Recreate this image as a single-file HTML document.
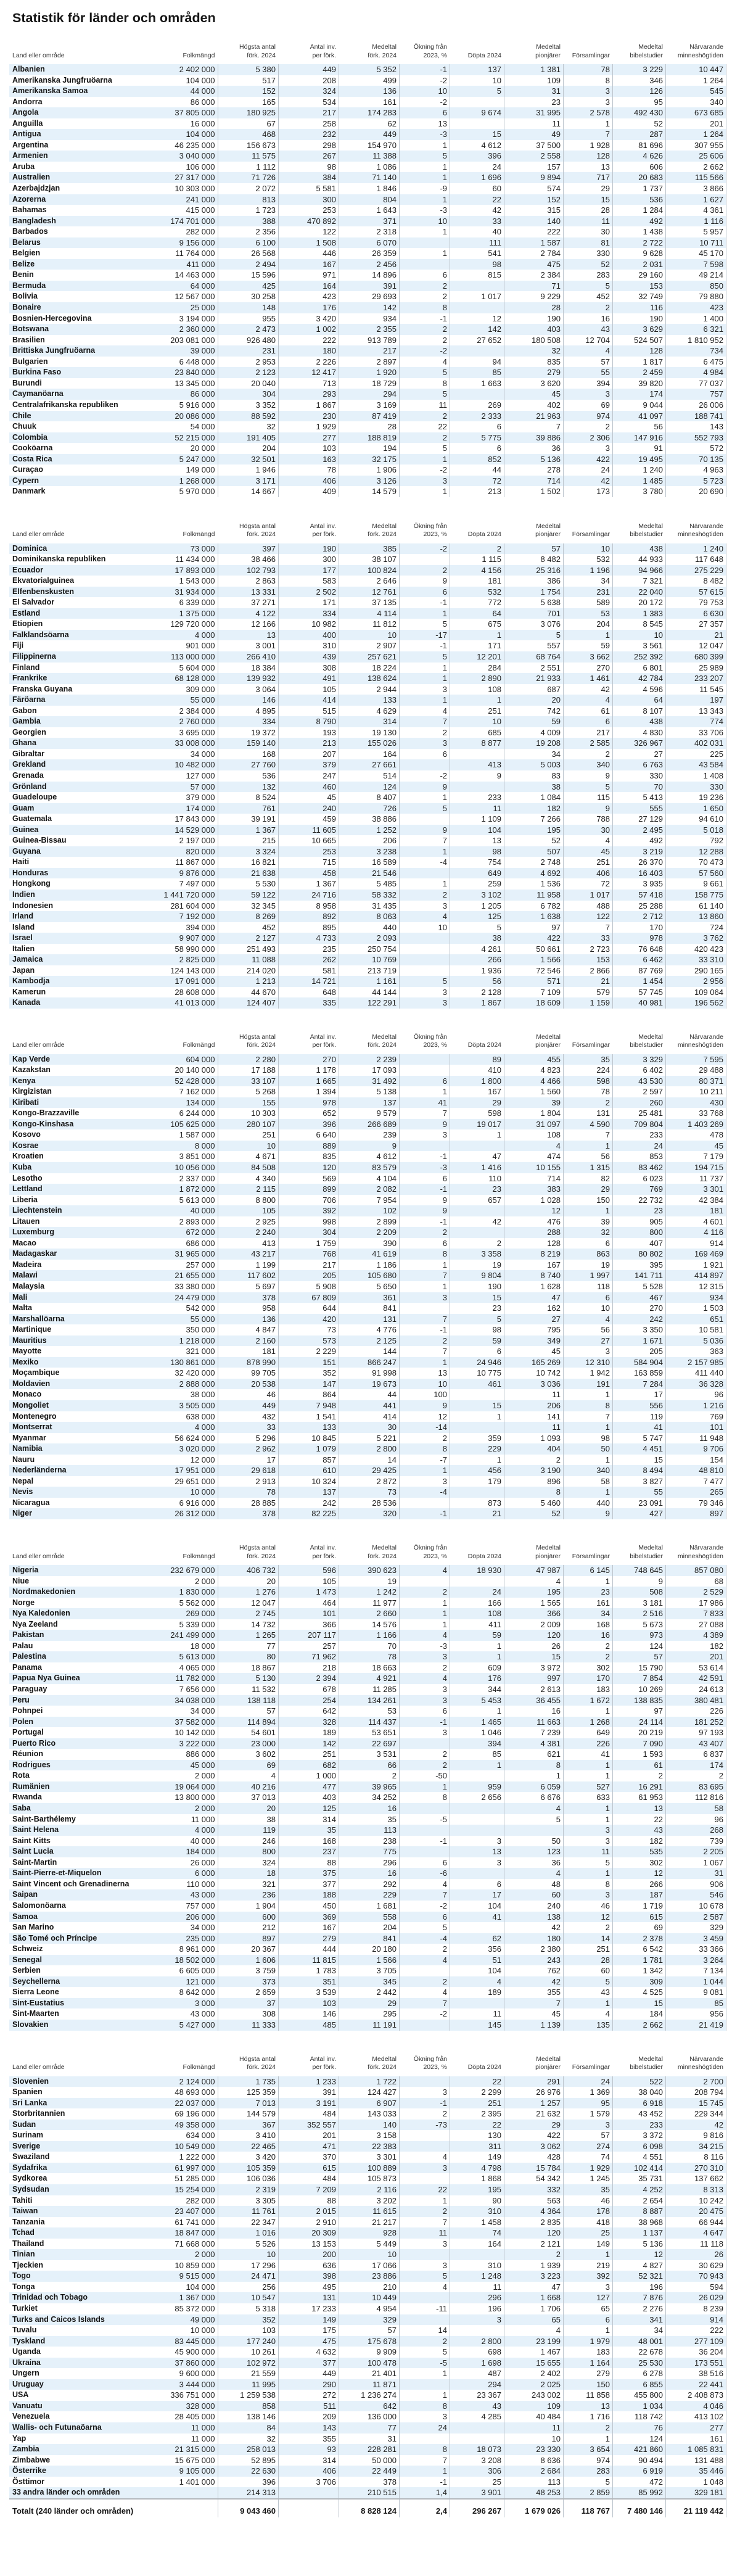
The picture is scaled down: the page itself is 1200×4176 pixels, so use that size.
<!DOCTYPE html>
<html lang="sv">
<head>
<meta charset="utf-8">
<title>Statistik för länder och områden</title>
<style>
*{margin:0;padding:0;box-sizing:border-box}
html,body{width:1200px;height:4176px;background:#fff;overflow:hidden}
body{position:relative;font-family:"Liberation Sans",Arial,sans-serif;color:#1a1a1a}
h1{position:absolute;left:20px;top:16px;font-size:21.5px;line-height:26px;font-weight:bold;color:#151515;white-space:nowrap}
.s{position:absolute;left:15px;width:1163px}
.h,.r,.t{display:grid;grid-template-columns:235px 103.5px 98.5px 98px 98px 82px 88px 96px 80px 86px 98px}
.h{height:34px;font-size:10.5px;line-height:13.5px;color:#333}
.h span{display:flex;align-items:flex-end;justify-content:flex-end;text-align:right;padding:0 5px 7px 0;white-space:nowrap}
.h span:first-child{justify-content:flex-start;text-align:left;padding-left:5px}
.r{height:17.55px;line-height:17.55px;white-space:nowrap}
.rows .r:nth-child(odd){background:#e5f1fa}
.r b,.t b{padding-left:5px;font-size:12.5px;font-weight:bold;color:#151515;white-space:nowrap}
.r i,.t i{font-style:normal;text-align:right;padding-right:4px;border-right:1px solid #bcc4cc;font-size:13px;color:#222;white-space:nowrap}
.t{height:31px;border-top:2px solid #b3b8bd}
.t b,.t i{padding-top:10px;line-height:17px}
.t i{font-weight:bold;color:#151515}
.t b{font-size:13px}
</style>
</head>
<body>
<h1>Statistik för länder och områden</h1>

<!-- Section 1 -->
<div class="s" style="top:70px">
<div class="h"><span>Land eller område</span><span>Folkmängd</span><span>Högsta antal<br>förk. 2024</span><span>Antal inv.<br>per förk.</span><span>Medeltal<br>förk. 2024</span><span>Ökning från<br>2023, %</span><span>Döpta 2024</span><span>Medeltal<br>pionjärer</span><span>Församlingar</span><span>Medeltal<br>bibelstudier</span><span>Närvarande<br>minneshögtiden</span></div>
<div class="rows">
<div class="r"><b>Albanien</b><i>2 402 000</i><i>5 380</i><i>449</i><i>5 352</i><i>-1</i><i>137</i><i>1 381</i><i>78</i><i>3 229</i><i>10 447</i></div>
<div class="r"><b>Amerikanska Jungfruöarna</b><i>104 000</i><i>517</i><i>208</i><i>499</i><i>-2</i><i>10</i><i>109</i><i>8</i><i>346</i><i>1 264</i></div>
<div class="r"><b>Amerikanska Samoa</b><i>44 000</i><i>152</i><i>324</i><i>136</i><i>10</i><i>5</i><i>31</i><i>3</i><i>126</i><i>545</i></div>
<div class="r"><b>Andorra</b><i>86 000</i><i>165</i><i>534</i><i>161</i><i>-2</i><i></i><i>23</i><i>3</i><i>95</i><i>340</i></div>
<div class="r"><b>Angola</b><i>37 805 000</i><i>180 925</i><i>217</i><i>174 283</i><i>6</i><i>9 674</i><i>31 995</i><i>2 578</i><i>492 430</i><i>673 685</i></div>
<div class="r"><b>Anguilla</b><i>16 000</i><i>67</i><i>258</i><i>62</i><i>13</i><i></i><i>11</i><i>1</i><i>52</i><i>201</i></div>
<div class="r"><b>Antigua</b><i>104 000</i><i>468</i><i>232</i><i>449</i><i>-3</i><i>15</i><i>49</i><i>7</i><i>287</i><i>1 264</i></div>
<div class="r"><b>Argentina</b><i>46 235 000</i><i>156 673</i><i>298</i><i>154 970</i><i>1</i><i>4 612</i><i>37 500</i><i>1 928</i><i>81 696</i><i>307 955</i></div>
<div class="r"><b>Armenien</b><i>3 040 000</i><i>11 575</i><i>267</i><i>11 388</i><i>5</i><i>396</i><i>2 558</i><i>128</i><i>4 626</i><i>25 606</i></div>
<div class="r"><b>Aruba</b><i>106 000</i><i>1 112</i><i>98</i><i>1 086</i><i>1</i><i>24</i><i>157</i><i>13</i><i>606</i><i>2 662</i></div>
<div class="r"><b>Australien</b><i>27 317 000</i><i>71 726</i><i>384</i><i>71 140</i><i>1</i><i>1 696</i><i>9 894</i><i>717</i><i>20 683</i><i>115 566</i></div>
<div class="r"><b>Azerbajdzjan</b><i>10 303 000</i><i>2 072</i><i>5 581</i><i>1 846</i><i>-9</i><i>60</i><i>574</i><i>29</i><i>1 737</i><i>3 866</i></div>
<div class="r"><b>Azorerna</b><i>241 000</i><i>813</i><i>300</i><i>804</i><i>1</i><i>22</i><i>152</i><i>15</i><i>536</i><i>1 627</i></div>
<div class="r"><b>Bahamas</b><i>415 000</i><i>1 723</i><i>253</i><i>1 643</i><i>-3</i><i>42</i><i>315</i><i>28</i><i>1 284</i><i>4 361</i></div>
<div class="r"><b>Bangladesh</b><i>174 701 000</i><i>388</i><i>470 892</i><i>371</i><i>10</i><i>33</i><i>140</i><i>11</i><i>492</i><i>1 116</i></div>
<div class="r"><b>Barbados</b><i>282 000</i><i>2 356</i><i>122</i><i>2 318</i><i>1</i><i>40</i><i>222</i><i>30</i><i>1 438</i><i>5 957</i></div>
<div class="r"><b>Belarus</b><i>9 156 000</i><i>6 100</i><i>1 508</i><i>6 070</i><i></i><i>111</i><i>1 587</i><i>81</i><i>2 722</i><i>10 711</i></div>
<div class="r"><b>Belgien</b><i>11 764 000</i><i>26 568</i><i>446</i><i>26 359</i><i>1</i><i>541</i><i>2 784</i><i>330</i><i>9 628</i><i>45 170</i></div>
<div class="r"><b>Belize</b><i>411 000</i><i>2 494</i><i>167</i><i>2 456</i><i></i><i>98</i><i>475</i><i>52</i><i>2 031</i><i>7 598</i></div>
<div class="r"><b>Benin</b><i>14 463 000</i><i>15 596</i><i>971</i><i>14 896</i><i>6</i><i>815</i><i>2 384</i><i>283</i><i>29 160</i><i>49 214</i></div>
<div class="r"><b>Bermuda</b><i>64 000</i><i>425</i><i>164</i><i>391</i><i>2</i><i></i><i>71</i><i>5</i><i>153</i><i>850</i></div>
<div class="r"><b>Bolivia</b><i>12 567 000</i><i>30 258</i><i>423</i><i>29 693</i><i>2</i><i>1 017</i><i>9 229</i><i>452</i><i>32 749</i><i>79 880</i></div>
<div class="r"><b>Bonaire</b><i>25 000</i><i>148</i><i>176</i><i>142</i><i>8</i><i></i><i>28</i><i>2</i><i>116</i><i>423</i></div>
<div class="r"><b>Bosnien-Hercegovina</b><i>3 194 000</i><i>955</i><i>3 420</i><i>934</i><i>-1</i><i>12</i><i>190</i><i>16</i><i>190</i><i>1 400</i></div>
<div class="r"><b>Botswana</b><i>2 360 000</i><i>2 473</i><i>1 002</i><i>2 355</i><i>2</i><i>142</i><i>403</i><i>43</i><i>3 629</i><i>6 321</i></div>
<div class="r"><b>Brasilien</b><i>203 081 000</i><i>926 480</i><i>222</i><i>913 789</i><i>2</i><i>27 652</i><i>180 508</i><i>12 704</i><i>524 507</i><i>1 810 952</i></div>
<div class="r"><b>Brittiska Jungfruöarna</b><i>39 000</i><i>231</i><i>180</i><i>217</i><i>-2</i><i></i><i>32</i><i>4</i><i>128</i><i>734</i></div>
<div class="r"><b>Bulgarien</b><i>6 448 000</i><i>2 953</i><i>2 226</i><i>2 897</i><i>4</i><i>94</i><i>835</i><i>57</i><i>1 817</i><i>6 475</i></div>
<div class="r"><b>Burkina Faso</b><i>23 840 000</i><i>2 123</i><i>12 417</i><i>1 920</i><i>5</i><i>85</i><i>279</i><i>55</i><i>2 459</i><i>4 984</i></div>
<div class="r"><b>Burundi</b><i>13 345 000</i><i>20 040</i><i>713</i><i>18 729</i><i>8</i><i>1 663</i><i>3 620</i><i>394</i><i>39 820</i><i>77 037</i></div>
<div class="r"><b>Caymanöarna</b><i>86 000</i><i>304</i><i>293</i><i>294</i><i>5</i><i></i><i>45</i><i>3</i><i>174</i><i>757</i></div>
<div class="r"><b>Centralafrikanska republiken</b><i>5 916 000</i><i>3 352</i><i>1 867</i><i>3 169</i><i>11</i><i>269</i><i>402</i><i>69</i><i>9 044</i><i>26 006</i></div>
<div class="r"><b>Chile</b><i>20 086 000</i><i>88 592</i><i>230</i><i>87 419</i><i>2</i><i>2 333</i><i>21 963</i><i>974</i><i>41 097</i><i>188 741</i></div>
<div class="r"><b>Chuuk</b><i>54 000</i><i>32</i><i>1 929</i><i>28</i><i>22</i><i>6</i><i>7</i><i>2</i><i>56</i><i>143</i></div>
<div class="r"><b>Colombia</b><i>52 215 000</i><i>191 405</i><i>277</i><i>188 819</i><i>2</i><i>5 775</i><i>39 886</i><i>2 306</i><i>147 916</i><i>552 793</i></div>
<div class="r"><b>Cooköarna</b><i>20 000</i><i>204</i><i>103</i><i>194</i><i>5</i><i>6</i><i>36</i><i>3</i><i>91</i><i>572</i></div>
<div class="r"><b>Costa Rica</b><i>5 247 000</i><i>32 501</i><i>163</i><i>32 175</i><i>1</i><i>852</i><i>5 136</i><i>422</i><i>19 495</i><i>70 135</i></div>
<div class="r"><b>Curaçao</b><i>149 000</i><i>1 946</i><i>78</i><i>1 906</i><i>-2</i><i>44</i><i>278</i><i>24</i><i>1 240</i><i>4 963</i></div>
<div class="r"><b>Cypern</b><i>1 268 000</i><i>3 171</i><i>406</i><i>3 126</i><i>3</i><i>72</i><i>714</i><i>42</i><i>1 485</i><i>5 723</i></div>
<div class="r"><b>Danmark</b><i>5 970 000</i><i>14 667</i><i>409</i><i>14 579</i><i>1</i><i>213</i><i>1 502</i><i>173</i><i>3 780</i><i>20 690</i></div>
</div>
</div>

<!-- Section 2 -->
<div class="s" style="top:846.5px">
<div class="h"><span>Land eller område</span><span>Folkmängd</span><span>Högsta antal<br>förk. 2024</span><span>Antal inv.<br>per förk.</span><span>Medeltal<br>förk. 2024</span><span>Ökning från<br>2023, %</span><span>Döpta 2024</span><span>Medeltal<br>pionjärer</span><span>Församlingar</span><span>Medeltal<br>bibelstudier</span><span>Närvarande<br>minneshögtiden</span></div>
<div class="rows">
<div class="r"><b>Dominica</b><i>73 000</i><i>397</i><i>190</i><i>385</i><i>-2</i><i>2</i><i>57</i><i>10</i><i>438</i><i>1 240</i></div>
<div class="r"><b>Dominikanska republiken</b><i>11 434 000</i><i>38 466</i><i>300</i><i>38 107</i><i></i><i>1 115</i><i>8 482</i><i>532</i><i>44 933</i><i>117 648</i></div>
<div class="r"><b>Ecuador</b><i>17 893 000</i><i>102 793</i><i>177</i><i>100 824</i><i>2</i><i>4 156</i><i>25 316</i><i>1 196</i><i>94 966</i><i>275 229</i></div>
<div class="r"><b>Ekvatorialguinea</b><i>1 543 000</i><i>2 863</i><i>583</i><i>2 646</i><i>9</i><i>181</i><i>386</i><i>34</i><i>7 321</i><i>8 482</i></div>
<div class="r"><b>Elfenbenskusten</b><i>31 934 000</i><i>13 331</i><i>2 502</i><i>12 761</i><i>6</i><i>532</i><i>1 754</i><i>231</i><i>22 040</i><i>57 615</i></div>
<div class="r"><b>El Salvador</b><i>6 339 000</i><i>37 271</i><i>171</i><i>37 135</i><i>-1</i><i>772</i><i>5 638</i><i>589</i><i>20 172</i><i>79 753</i></div>
<div class="r"><b>Estland</b><i>1 375 000</i><i>4 122</i><i>334</i><i>4 114</i><i>1</i><i>64</i><i>701</i><i>53</i><i>1 383</i><i>6 630</i></div>
<div class="r"><b>Etiopien</b><i>129 720 000</i><i>12 166</i><i>10 982</i><i>11 812</i><i>5</i><i>675</i><i>3 076</i><i>204</i><i>8 545</i><i>27 357</i></div>
<div class="r"><b>Falklandsöarna</b><i>4 000</i><i>13</i><i>400</i><i>10</i><i>-17</i><i>1</i><i>5</i><i>1</i><i>10</i><i>21</i></div>
<div class="r"><b>Fiji</b><i>901 000</i><i>3 001</i><i>310</i><i>2 907</i><i>-1</i><i>171</i><i>557</i><i>59</i><i>3 561</i><i>12 047</i></div>
<div class="r"><b>Filippinerna</b><i>113 000 000</i><i>266 410</i><i>439</i><i>257 621</i><i>5</i><i>12 201</i><i>68 764</i><i>3 662</i><i>252 392</i><i>680 399</i></div>
<div class="r"><b>Finland</b><i>5 604 000</i><i>18 384</i><i>308</i><i>18 224</i><i>1</i><i>284</i><i>2 551</i><i>270</i><i>6 801</i><i>25 989</i></div>
<div class="r"><b>Frankrike</b><i>68 128 000</i><i>139 932</i><i>491</i><i>138 624</i><i>1</i><i>2 890</i><i>21 933</i><i>1 461</i><i>42 784</i><i>233 207</i></div>
<div class="r"><b>Franska Guyana</b><i>309 000</i><i>3 064</i><i>105</i><i>2 944</i><i>3</i><i>108</i><i>687</i><i>42</i><i>4 596</i><i>11 545</i></div>
<div class="r"><b>Färöarna</b><i>55 000</i><i>146</i><i>414</i><i>133</i><i>1</i><i>1</i><i>20</i><i>4</i><i>64</i><i>197</i></div>
<div class="r"><b>Gabon</b><i>2 384 000</i><i>4 895</i><i>515</i><i>4 629</i><i>4</i><i>251</i><i>742</i><i>61</i><i>8 107</i><i>13 343</i></div>
<div class="r"><b>Gambia</b><i>2 760 000</i><i>334</i><i>8 790</i><i>314</i><i>7</i><i>10</i><i>59</i><i>6</i><i>438</i><i>774</i></div>
<div class="r"><b>Georgien</b><i>3 695 000</i><i>19 372</i><i>193</i><i>19 130</i><i>2</i><i>685</i><i>4 009</i><i>217</i><i>4 830</i><i>33 706</i></div>
<div class="r"><b>Ghana</b><i>33 008 000</i><i>159 140</i><i>213</i><i>155 026</i><i>3</i><i>8 877</i><i>19 208</i><i>2 585</i><i>326 967</i><i>402 031</i></div>
<div class="r"><b>Gibraltar</b><i>34 000</i><i>168</i><i>207</i><i>164</i><i>6</i><i></i><i>34</i><i>2</i><i>27</i><i>225</i></div>
<div class="r"><b>Grekland</b><i>10 482 000</i><i>27 760</i><i>379</i><i>27 661</i><i></i><i>413</i><i>5 003</i><i>340</i><i>6 763</i><i>43 584</i></div>
<div class="r"><b>Grenada</b><i>127 000</i><i>536</i><i>247</i><i>514</i><i>-2</i><i>9</i><i>83</i><i>9</i><i>330</i><i>1 408</i></div>
<div class="r"><b>Grönland</b><i>57 000</i><i>132</i><i>460</i><i>124</i><i>9</i><i></i><i>38</i><i>5</i><i>70</i><i>330</i></div>
<div class="r"><b>Guadeloupe</b><i>379 000</i><i>8 524</i><i>45</i><i>8 407</i><i>1</i><i>233</i><i>1 084</i><i>115</i><i>5 413</i><i>19 236</i></div>
<div class="r"><b>Guam</b><i>174 000</i><i>761</i><i>240</i><i>726</i><i>5</i><i>11</i><i>182</i><i>9</i><i>555</i><i>1 650</i></div>
<div class="r"><b>Guatemala</b><i>17 843 000</i><i>39 191</i><i>459</i><i>38 886</i><i></i><i>1 109</i><i>7 266</i><i>788</i><i>27 129</i><i>94 610</i></div>
<div class="r"><b>Guinea</b><i>14 529 000</i><i>1 367</i><i>11 605</i><i>1 252</i><i>9</i><i>104</i><i>195</i><i>30</i><i>2 495</i><i>5 018</i></div>
<div class="r"><b>Guinea-Bissau</b><i>2 197 000</i><i>215</i><i>10 665</i><i>206</i><i>7</i><i>13</i><i>52</i><i>4</i><i>492</i><i>792</i></div>
<div class="r"><b>Guyana</b><i>820 000</i><i>3 324</i><i>253</i><i>3 238</i><i>1</i><i>98</i><i>507</i><i>45</i><i>3 219</i><i>12 288</i></div>
<div class="r"><b>Haiti</b><i>11 867 000</i><i>16 821</i><i>715</i><i>16 589</i><i>-4</i><i>754</i><i>2 748</i><i>251</i><i>26 370</i><i>70 473</i></div>
<div class="r"><b>Honduras</b><i>9 876 000</i><i>21 638</i><i>458</i><i>21 546</i><i></i><i>649</i><i>4 692</i><i>406</i><i>16 403</i><i>57 560</i></div>
<div class="r"><b>Hongkong</b><i>7 497 000</i><i>5 530</i><i>1 367</i><i>5 485</i><i>1</i><i>259</i><i>1 536</i><i>72</i><i>3 935</i><i>9 661</i></div>
<div class="r"><b>Indien</b><i>1 441 720 000</i><i>59 122</i><i>24 716</i><i>58 332</i><i>2</i><i>3 102</i><i>11 958</i><i>1 017</i><i>57 418</i><i>158 775</i></div>
<div class="r"><b>Indonesien</b><i>281 604 000</i><i>32 345</i><i>8 958</i><i>31 435</i><i>3</i><i>1 205</i><i>6 782</i><i>488</i><i>25 288</i><i>61 140</i></div>
<div class="r"><b>Irland</b><i>7 192 000</i><i>8 269</i><i>892</i><i>8 063</i><i>4</i><i>125</i><i>1 638</i><i>122</i><i>2 712</i><i>13 860</i></div>
<div class="r"><b>Island</b><i>394 000</i><i>452</i><i>895</i><i>440</i><i>10</i><i>5</i><i>97</i><i>7</i><i>170</i><i>724</i></div>
<div class="r"><b>Israel</b><i>9 907 000</i><i>2 127</i><i>4 733</i><i>2 093</i><i></i><i>38</i><i>422</i><i>33</i><i>978</i><i>3 762</i></div>
<div class="r"><b>Italien</b><i>58 990 000</i><i>251 493</i><i>235</i><i>250 754</i><i></i><i>4 261</i><i>50 661</i><i>2 723</i><i>76 648</i><i>420 423</i></div>
<div class="r"><b>Jamaica</b><i>2 825 000</i><i>11 088</i><i>262</i><i>10 769</i><i></i><i>266</i><i>1 566</i><i>153</i><i>6 462</i><i>33 310</i></div>
<div class="r"><b>Japan</b><i>124 143 000</i><i>214 020</i><i>581</i><i>213 719</i><i></i><i>1 936</i><i>72 546</i><i>2 866</i><i>87 769</i><i>290 165</i></div>
<div class="r"><b>Kambodja</b><i>17 091 000</i><i>1 213</i><i>14 721</i><i>1 161</i><i>5</i><i>56</i><i>571</i><i>21</i><i>1 454</i><i>2 956</i></div>
<div class="r"><b>Kamerun</b><i>28 608 000</i><i>44 670</i><i>648</i><i>44 144</i><i>3</i><i>2 128</i><i>7 109</i><i>579</i><i>57 745</i><i>109 064</i></div>
<div class="r"><b>Kanada</b><i>41 013 000</i><i>124 407</i><i>335</i><i>122 291</i><i>3</i><i>1 867</i><i>18 609</i><i>1 159</i><i>40 981</i><i>196 562</i></div>
</div>
</div>

<!-- Section 3 -->
<div class="s" style="top:1674.5px">
<div class="h"><span>Land eller område</span><span>Folkmängd</span><span>Högsta antal<br>förk. 2024</span><span>Antal inv.<br>per förk.</span><span>Medeltal<br>förk. 2024</span><span>Ökning från<br>2023, %</span><span>Döpta 2024</span><span>Medeltal<br>pionjärer</span><span>Församlingar</span><span>Medeltal<br>bibelstudier</span><span>Närvarande<br>minneshögtiden</span></div>
<div class="rows">
<div class="r"><b>Kap Verde</b><i>604 000</i><i>2 280</i><i>270</i><i>2 239</i><i></i><i>89</i><i>455</i><i>35</i><i>3 329</i><i>7 595</i></div>
<div class="r"><b>Kazakstan</b><i>20 140 000</i><i>17 188</i><i>1 178</i><i>17 093</i><i></i><i>410</i><i>4 823</i><i>224</i><i>6 402</i><i>29 488</i></div>
<div class="r"><b>Kenya</b><i>52 428 000</i><i>33 107</i><i>1 665</i><i>31 492</i><i>6</i><i>1 800</i><i>4 466</i><i>598</i><i>43 530</i><i>80 371</i></div>
<div class="r"><b>Kirgizistan</b><i>7 162 000</i><i>5 268</i><i>1 394</i><i>5 138</i><i>1</i><i>167</i><i>1 560</i><i>78</i><i>2 597</i><i>10 211</i></div>
<div class="r"><b>Kiribati</b><i>134 000</i><i>155</i><i>978</i><i>137</i><i>41</i><i>29</i><i>39</i><i>2</i><i>260</i><i>430</i></div>
<div class="r"><b>Kongo-Brazzaville</b><i>6 244 000</i><i>10 303</i><i>652</i><i>9 579</i><i>7</i><i>598</i><i>1 804</i><i>131</i><i>25 481</i><i>33 768</i></div>
<div class="r"><b>Kongo-Kinshasa</b><i>105 625 000</i><i>280 107</i><i>396</i><i>266 689</i><i>9</i><i>19 017</i><i>31 097</i><i>4 590</i><i>709 804</i><i>1 403 269</i></div>
<div class="r"><b>Kosovo</b><i>1 587 000</i><i>251</i><i>6 640</i><i>239</i><i>3</i><i>1</i><i>108</i><i>7</i><i>233</i><i>478</i></div>
<div class="r"><b>Kosrae</b><i>8 000</i><i>10</i><i>889</i><i>9</i><i></i><i></i><i>4</i><i>1</i><i>24</i><i>45</i></div>
<div class="r"><b>Kroatien</b><i>3 851 000</i><i>4 671</i><i>835</i><i>4 612</i><i>-1</i><i>47</i><i>474</i><i>56</i><i>853</i><i>7 179</i></div>
<div class="r"><b>Kuba</b><i>10 056 000</i><i>84 508</i><i>120</i><i>83 579</i><i>-3</i><i>1 416</i><i>10 155</i><i>1 315</i><i>83 462</i><i>194 715</i></div>
<div class="r"><b>Lesotho</b><i>2 337 000</i><i>4 340</i><i>569</i><i>4 104</i><i>6</i><i>110</i><i>714</i><i>82</i><i>6 023</i><i>11 737</i></div>
<div class="r"><b>Lettland</b><i>1 872 000</i><i>2 115</i><i>899</i><i>2 082</i><i>-1</i><i>23</i><i>383</i><i>29</i><i>769</i><i>3 301</i></div>
<div class="r"><b>Liberia</b><i>5 613 000</i><i>8 800</i><i>706</i><i>7 954</i><i>9</i><i>657</i><i>1 028</i><i>150</i><i>22 732</i><i>42 384</i></div>
<div class="r"><b>Liechtenstein</b><i>40 000</i><i>105</i><i>392</i><i>102</i><i>9</i><i></i><i>12</i><i>1</i><i>23</i><i>181</i></div>
<div class="r"><b>Litauen</b><i>2 893 000</i><i>2 925</i><i>998</i><i>2 899</i><i>-1</i><i>42</i><i>476</i><i>39</i><i>905</i><i>4 601</i></div>
<div class="r"><b>Luxemburg</b><i>672 000</i><i>2 240</i><i>304</i><i>2 209</i><i>2</i><i></i><i>288</i><i>32</i><i>800</i><i>4 116</i></div>
<div class="r"><b>Macao</b><i>686 000</i><i>413</i><i>1 759</i><i>390</i><i>6</i><i>2</i><i>128</i><i>6</i><i>407</i><i>914</i></div>
<div class="r"><b>Madagaskar</b><i>31 965 000</i><i>43 217</i><i>768</i><i>41 619</i><i>8</i><i>3 358</i><i>8 219</i><i>863</i><i>80 802</i><i>169 469</i></div>
<div class="r"><b>Madeira</b><i>257 000</i><i>1 199</i><i>217</i><i>1 186</i><i>1</i><i>19</i><i>167</i><i>19</i><i>395</i><i>1 921</i></div>
<div class="r"><b>Malawi</b><i>21 655 000</i><i>117 602</i><i>205</i><i>105 680</i><i>7</i><i>9 804</i><i>8 740</i><i>1 997</i><i>141 711</i><i>414 897</i></div>
<div class="r"><b>Malaysia</b><i>33 380 000</i><i>5 697</i><i>5 908</i><i>5 650</i><i>1</i><i>190</i><i>1 628</i><i>118</i><i>5 528</i><i>12 315</i></div>
<div class="r"><b>Mali</b><i>24 479 000</i><i>378</i><i>67 809</i><i>361</i><i>3</i><i>15</i><i>47</i><i>6</i><i>467</i><i>934</i></div>
<div class="r"><b>Malta</b><i>542 000</i><i>958</i><i>644</i><i>841</i><i></i><i>23</i><i>162</i><i>10</i><i>270</i><i>1 503</i></div>
<div class="r"><b>Marshallöarna</b><i>55 000</i><i>136</i><i>420</i><i>131</i><i>7</i><i>5</i><i>27</i><i>4</i><i>242</i><i>651</i></div>
<div class="r"><b>Martinique</b><i>350 000</i><i>4 847</i><i>73</i><i>4 776</i><i>-1</i><i>98</i><i>795</i><i>56</i><i>3 350</i><i>10 581</i></div>
<div class="r"><b>Mauritius</b><i>1 218 000</i><i>2 160</i><i>573</i><i>2 125</i><i>2</i><i>59</i><i>349</i><i>27</i><i>1 671</i><i>5 036</i></div>
<div class="r"><b>Mayotte</b><i>321 000</i><i>181</i><i>2 229</i><i>144</i><i>7</i><i>6</i><i>45</i><i>3</i><i>205</i><i>363</i></div>
<div class="r"><b>Mexiko</b><i>130 861 000</i><i>878 990</i><i>151</i><i>866 247</i><i>1</i><i>24 946</i><i>165 269</i><i>12 310</i><i>584 904</i><i>2 157 985</i></div>
<div class="r"><b>Moçambique</b><i>32 420 000</i><i>99 705</i><i>352</i><i>91 998</i><i>13</i><i>10 775</i><i>10 742</i><i>1 942</i><i>163 859</i><i>411 440</i></div>
<div class="r"><b>Moldavien</b><i>2 888 000</i><i>20 538</i><i>147</i><i>19 673</i><i>10</i><i>461</i><i>3 036</i><i>191</i><i>7 284</i><i>36 328</i></div>
<div class="r"><b>Monaco</b><i>38 000</i><i>46</i><i>864</i><i>44</i><i>100</i><i></i><i>11</i><i>1</i><i>17</i><i>96</i></div>
<div class="r"><b>Mongoliet</b><i>3 505 000</i><i>449</i><i>7 948</i><i>441</i><i>9</i><i>15</i><i>206</i><i>8</i><i>556</i><i>1 216</i></div>
<div class="r"><b>Montenegro</b><i>638 000</i><i>432</i><i>1 541</i><i>414</i><i>12</i><i>1</i><i>141</i><i>7</i><i>119</i><i>769</i></div>
<div class="r"><b>Montserrat</b><i>4 000</i><i>33</i><i>133</i><i>30</i><i>-14</i><i></i><i>11</i><i>1</i><i>41</i><i>101</i></div>
<div class="r"><b>Myanmar</b><i>56 624 000</i><i>5 296</i><i>10 845</i><i>5 221</i><i>2</i><i>359</i><i>1 093</i><i>98</i><i>5 747</i><i>11 948</i></div>
<div class="r"><b>Namibia</b><i>3 020 000</i><i>2 962</i><i>1 079</i><i>2 800</i><i>8</i><i>229</i><i>404</i><i>50</i><i>4 451</i><i>9 706</i></div>
<div class="r"><b>Nauru</b><i>12 000</i><i>17</i><i>857</i><i>14</i><i>-7</i><i>1</i><i>2</i><i>1</i><i>15</i><i>154</i></div>
<div class="r"><b>Nederländerna</b><i>17 951 000</i><i>29 618</i><i>610</i><i>29 425</i><i>1</i><i>456</i><i>3 190</i><i>340</i><i>8 494</i><i>48 810</i></div>
<div class="r"><b>Nepal</b><i>29 651 000</i><i>2 913</i><i>10 324</i><i>2 872</i><i>3</i><i>179</i><i>896</i><i>58</i><i>3 827</i><i>7 477</i></div>
<div class="r"><b>Nevis</b><i>10 000</i><i>78</i><i>137</i><i>73</i><i>-4</i><i></i><i>8</i><i>1</i><i>55</i><i>265</i></div>
<div class="r"><b>Nicaragua</b><i>6 916 000</i><i>28 885</i><i>242</i><i>28 536</i><i></i><i>873</i><i>5 460</i><i>440</i><i>23 091</i><i>79 346</i></div>
<div class="r"><b>Niger</b><i>26 312 000</i><i>378</i><i>82 225</i><i>320</i><i>-1</i><i>21</i><i>52</i><i>9</i><i>427</i><i>897</i></div>
</div>
</div>

<!-- Section 4 -->
<div class="s" style="top:2503px">
<div class="h"><span>Land eller område</span><span>Folkmängd</span><span>Högsta antal<br>förk. 2024</span><span>Antal inv.<br>per förk.</span><span>Medeltal<br>förk. 2024</span><span>Ökning från<br>2023, %</span><span>Döpta 2024</span><span>Medeltal<br>pionjärer</span><span>Församlingar</span><span>Medeltal<br>bibelstudier</span><span>Närvarande<br>minneshögtiden</span></div>
<div class="rows">
<div class="r"><b>Nigeria</b><i>232 679 000</i><i>406 732</i><i>596</i><i>390 623</i><i>4</i><i>18 930</i><i>47 987</i><i>6 145</i><i>748 645</i><i>857 080</i></div>
<div class="r"><b>Niue</b><i>2 000</i><i>20</i><i>105</i><i>19</i><i></i><i></i><i>4</i><i>1</i><i>9</i><i>68</i></div>
<div class="r"><b>Nordmakedonien</b><i>1 830 000</i><i>1 276</i><i>1 473</i><i>1 242</i><i>2</i><i>24</i><i>195</i><i>23</i><i>508</i><i>2 529</i></div>
<div class="r"><b>Norge</b><i>5 562 000</i><i>12 047</i><i>464</i><i>11 977</i><i>1</i><i>166</i><i>1 565</i><i>161</i><i>3 181</i><i>17 986</i></div>
<div class="r"><b>Nya Kaledonien</b><i>269 000</i><i>2 745</i><i>101</i><i>2 660</i><i>1</i><i>108</i><i>366</i><i>34</i><i>2 516</i><i>7 833</i></div>
<div class="r"><b>Nya Zeeland</b><i>5 339 000</i><i>14 732</i><i>366</i><i>14 576</i><i>1</i><i>411</i><i>2 009</i><i>168</i><i>5 673</i><i>27 088</i></div>
<div class="r"><b>Pakistan</b><i>241 499 000</i><i>1 265</i><i>207 117</i><i>1 166</i><i>4</i><i>59</i><i>120</i><i>16</i><i>973</i><i>4 389</i></div>
<div class="r"><b>Palau</b><i>18 000</i><i>77</i><i>257</i><i>70</i><i>-3</i><i>1</i><i>26</i><i>2</i><i>124</i><i>182</i></div>
<div class="r"><b>Palestina</b><i>5 613 000</i><i>80</i><i>71 962</i><i>78</i><i>3</i><i>1</i><i>15</i><i>2</i><i>57</i><i>201</i></div>
<div class="r"><b>Panama</b><i>4 065 000</i><i>18 867</i><i>218</i><i>18 663</i><i>2</i><i>609</i><i>3 972</i><i>302</i><i>15 790</i><i>53 614</i></div>
<div class="r"><b>Papua Nya Guinea</b><i>11 782 000</i><i>5 130</i><i>2 394</i><i>4 921</i><i>4</i><i>176</i><i>997</i><i>170</i><i>7 854</i><i>42 591</i></div>
<div class="r"><b>Paraguay</b><i>7 656 000</i><i>11 532</i><i>678</i><i>11 285</i><i>3</i><i>344</i><i>2 613</i><i>183</i><i>10 269</i><i>24 613</i></div>
<div class="r"><b>Peru</b><i>34 038 000</i><i>138 118</i><i>254</i><i>134 261</i><i>3</i><i>5 453</i><i>36 455</i><i>1 672</i><i>138 835</i><i>380 481</i></div>
<div class="r"><b>Pohnpei</b><i>34 000</i><i>57</i><i>642</i><i>53</i><i>6</i><i>1</i><i>16</i><i>1</i><i>97</i><i>226</i></div>
<div class="r"><b>Polen</b><i>37 582 000</i><i>114 894</i><i>328</i><i>114 437</i><i>-1</i><i>1 465</i><i>11 663</i><i>1 268</i><i>24 114</i><i>181 252</i></div>
<div class="r"><b>Portugal</b><i>10 142 000</i><i>54 601</i><i>189</i><i>53 651</i><i>3</i><i>1 046</i><i>7 239</i><i>649</i><i>20 219</i><i>97 193</i></div>
<div class="r"><b>Puerto Rico</b><i>3 222 000</i><i>23 000</i><i>142</i><i>22 697</i><i></i><i>394</i><i>4 381</i><i>226</i><i>7 090</i><i>43 407</i></div>
<div class="r"><b>Réunion</b><i>886 000</i><i>3 602</i><i>251</i><i>3 531</i><i>2</i><i>85</i><i>621</i><i>41</i><i>1 593</i><i>6 837</i></div>
<div class="r"><b>Rodrigues</b><i>45 000</i><i>69</i><i>682</i><i>66</i><i>2</i><i>1</i><i>8</i><i>1</i><i>61</i><i>174</i></div>
<div class="r"><b>Rota</b><i>2 000</i><i>4</i><i>1 000</i><i>2</i><i>-50</i><i></i><i>1</i><i>1</i><i>2</i><i>2</i></div>
<div class="r"><b>Rumänien</b><i>19 064 000</i><i>40 216</i><i>477</i><i>39 965</i><i>1</i><i>959</i><i>6 059</i><i>527</i><i>16 291</i><i>83 695</i></div>
<div class="r"><b>Rwanda</b><i>13 800 000</i><i>37 013</i><i>403</i><i>34 252</i><i>8</i><i>2 656</i><i>6 676</i><i>633</i><i>61 953</i><i>112 816</i></div>
<div class="r"><b>Saba</b><i>2 000</i><i>20</i><i>125</i><i>16</i><i></i><i></i><i>4</i><i>1</i><i>13</i><i>58</i></div>
<div class="r"><b>Saint-Barthélemy</b><i>11 000</i><i>38</i><i>314</i><i>35</i><i>-5</i><i></i><i>5</i><i>1</i><i>22</i><i>96</i></div>
<div class="r"><b>Saint Helena</b><i>4 000</i><i>119</i><i>35</i><i>113</i><i></i><i></i><i></i><i>3</i><i>43</i><i>268</i></div>
<div class="r"><b>Saint Kitts</b><i>40 000</i><i>246</i><i>168</i><i>238</i><i>-1</i><i>3</i><i>50</i><i>3</i><i>182</i><i>739</i></div>
<div class="r"><b>Saint Lucia</b><i>184 000</i><i>800</i><i>237</i><i>775</i><i></i><i>13</i><i>123</i><i>11</i><i>535</i><i>2 205</i></div>
<div class="r"><b>Saint-Martin</b><i>26 000</i><i>324</i><i>88</i><i>296</i><i>6</i><i>3</i><i>36</i><i>5</i><i>302</i><i>1 067</i></div>
<div class="r"><b>Saint-Pierre-et-Miquelon</b><i>6 000</i><i>18</i><i>375</i><i>16</i><i>-6</i><i></i><i>4</i><i>1</i><i>12</i><i>31</i></div>
<div class="r"><b>Saint Vincent och Grenadinerna</b><i>110 000</i><i>321</i><i>377</i><i>292</i><i>4</i><i>6</i><i>48</i><i>8</i><i>266</i><i>906</i></div>
<div class="r"><b>Saipan</b><i>43 000</i><i>236</i><i>188</i><i>229</i><i>7</i><i>17</i><i>60</i><i>3</i><i>187</i><i>546</i></div>
<div class="r"><b>Salomonöarna</b><i>757 000</i><i>1 904</i><i>450</i><i>1 681</i><i>-2</i><i>104</i><i>240</i><i>46</i><i>1 719</i><i>10 678</i></div>
<div class="r"><b>Samoa</b><i>206 000</i><i>600</i><i>369</i><i>558</i><i>6</i><i>41</i><i>138</i><i>12</i><i>615</i><i>2 587</i></div>
<div class="r"><b>San Marino</b><i>34 000</i><i>212</i><i>167</i><i>204</i><i>5</i><i></i><i>42</i><i>2</i><i>69</i><i>329</i></div>
<div class="r"><b>São Tomé och Príncipe</b><i>235 000</i><i>897</i><i>279</i><i>841</i><i>-4</i><i>62</i><i>180</i><i>14</i><i>2 378</i><i>3 459</i></div>
<div class="r"><b>Schweiz</b><i>8 961 000</i><i>20 367</i><i>444</i><i>20 180</i><i>2</i><i>356</i><i>2 380</i><i>251</i><i>6 542</i><i>33 366</i></div>
<div class="r"><b>Senegal</b><i>18 502 000</i><i>1 606</i><i>11 815</i><i>1 566</i><i>4</i><i>51</i><i>243</i><i>28</i><i>1 781</i><i>3 264</i></div>
<div class="r"><b>Serbien</b><i>6 605 000</i><i>3 759</i><i>1 783</i><i>3 705</i><i></i><i>104</i><i>762</i><i>60</i><i>1 342</i><i>7 134</i></div>
<div class="r"><b>Seychellerna</b><i>121 000</i><i>373</i><i>351</i><i>345</i><i>2</i><i>4</i><i>42</i><i>5</i><i>309</i><i>1 044</i></div>
<div class="r"><b>Sierra Leone</b><i>8 642 000</i><i>2 659</i><i>3 539</i><i>2 442</i><i>4</i><i>189</i><i>355</i><i>43</i><i>4 525</i><i>9 081</i></div>
<div class="r"><b>Sint-Eustatius</b><i>3 000</i><i>37</i><i>103</i><i>29</i><i>7</i><i></i><i>7</i><i>1</i><i>15</i><i>85</i></div>
<div class="r"><b>Sint-Maarten</b><i>43 000</i><i>308</i><i>146</i><i>295</i><i>-2</i><i>11</i><i>45</i><i>4</i><i>184</i><i>956</i></div>
<div class="r"><b>Slovakien</b><i>5 427 000</i><i>11 333</i><i>485</i><i>11 191</i><i></i><i>145</i><i>1 139</i><i>135</i><i>2 662</i><i>21 419</i></div>
</div>
</div>

<!-- Section 5 -->
<div class="s" style="top:3331.5px">
<div class="h"><span>Land eller område</span><span>Folkmängd</span><span>Högsta antal<br>förk. 2024</span><span>Antal inv.<br>per förk.</span><span>Medeltal<br>förk. 2024</span><span>Ökning från<br>2023, %</span><span>Döpta 2024</span><span>Medeltal<br>pionjärer</span><span>Församlingar</span><span>Medeltal<br>bibelstudier</span><span>Närvarande<br>minneshögtiden</span></div>
<div class="rows">
<div class="r"><b>Slovenien</b><i>2 124 000</i><i>1 735</i><i>1 233</i><i>1 722</i><i></i><i>22</i><i>291</i><i>24</i><i>522</i><i>2 700</i></div>
<div class="r"><b>Spanien</b><i>48 693 000</i><i>125 359</i><i>391</i><i>124 427</i><i>3</i><i>2 299</i><i>26 976</i><i>1 369</i><i>38 040</i><i>208 794</i></div>
<div class="r"><b>Sri Lanka</b><i>22 037 000</i><i>7 013</i><i>3 191</i><i>6 907</i><i>-1</i><i>251</i><i>1 257</i><i>95</i><i>6 918</i><i>15 745</i></div>
<div class="r"><b>Storbritannien</b><i>69 196 000</i><i>144 579</i><i>484</i><i>143 033</i><i>2</i><i>2 395</i><i>21 632</i><i>1 579</i><i>43 452</i><i>229 344</i></div>
<div class="r"><b>Sudan</b><i>49 358 000</i><i>367</i><i>352 557</i><i>140</i><i>-73</i><i>22</i><i>29</i><i>3</i><i>233</i><i>42</i></div>
<div class="r"><b>Surinam</b><i>634 000</i><i>3 410</i><i>201</i><i>3 158</i><i></i><i>130</i><i>422</i><i>57</i><i>3 372</i><i>9 816</i></div>
<div class="r"><b>Sverige</b><i>10 549 000</i><i>22 465</i><i>471</i><i>22 383</i><i></i><i>311</i><i>3 062</i><i>274</i><i>6 098</i><i>34 215</i></div>
<div class="r"><b>Swaziland</b><i>1 222 000</i><i>3 420</i><i>370</i><i>3 301</i><i>4</i><i>149</i><i>428</i><i>74</i><i>4 551</i><i>8 116</i></div>
<div class="r"><b>Sydafrika</b><i>61 997 000</i><i>105 359</i><i>615</i><i>100 889</i><i>3</i><i>4 798</i><i>15 784</i><i>1 929</i><i>102 414</i><i>270 310</i></div>
<div class="r"><b>Sydkorea</b><i>51 285 000</i><i>106 036</i><i>484</i><i>105 873</i><i></i><i>1 868</i><i>54 342</i><i>1 245</i><i>35 731</i><i>137 662</i></div>
<div class="r"><b>Sydsudan</b><i>15 254 000</i><i>2 319</i><i>7 209</i><i>2 116</i><i>22</i><i>195</i><i>332</i><i>35</i><i>4 252</i><i>8 313</i></div>
<div class="r"><b>Tahiti</b><i>282 000</i><i>3 305</i><i>88</i><i>3 202</i><i>1</i><i>90</i><i>563</i><i>46</i><i>2 654</i><i>10 242</i></div>
<div class="r"><b>Taiwan</b><i>23 407 000</i><i>11 761</i><i>2 015</i><i>11 615</i><i>2</i><i>310</i><i>4 364</i><i>178</i><i>8 887</i><i>20 475</i></div>
<div class="r"><b>Tanzania</b><i>61 741 000</i><i>22 347</i><i>2 910</i><i>21 217</i><i>7</i><i>1 458</i><i>2 835</i><i>418</i><i>38 968</i><i>66 944</i></div>
<div class="r"><b>Tchad</b><i>18 847 000</i><i>1 016</i><i>20 309</i><i>928</i><i>11</i><i>74</i><i>120</i><i>25</i><i>1 137</i><i>4 647</i></div>
<div class="r"><b>Thailand</b><i>71 668 000</i><i>5 526</i><i>13 153</i><i>5 449</i><i>3</i><i>164</i><i>2 121</i><i>149</i><i>5 136</i><i>11 118</i></div>
<div class="r"><b>Tinian</b><i>2 000</i><i>10</i><i>200</i><i>10</i><i></i><i></i><i>2</i><i>1</i><i>12</i><i>26</i></div>
<div class="r"><b>Tjeckien</b><i>10 859 000</i><i>17 296</i><i>636</i><i>17 066</i><i>3</i><i>310</i><i>1 939</i><i>219</i><i>4 827</i><i>30 629</i></div>
<div class="r"><b>Togo</b><i>9 515 000</i><i>24 471</i><i>398</i><i>23 886</i><i>5</i><i>1 248</i><i>3 223</i><i>392</i><i>52 321</i><i>70 943</i></div>
<div class="r"><b>Tonga</b><i>104 000</i><i>256</i><i>495</i><i>210</i><i>4</i><i>11</i><i>47</i><i>3</i><i>196</i><i>594</i></div>
<div class="r"><b>Trinidad och Tobago</b><i>1 367 000</i><i>10 547</i><i>131</i><i>10 449</i><i></i><i>296</i><i>1 668</i><i>127</i><i>7 876</i><i>26 029</i></div>
<div class="r"><b>Turkiet</b><i>85 372 000</i><i>5 318</i><i>17 233</i><i>4 954</i><i>-11</i><i>196</i><i>1 706</i><i>65</i><i>2 276</i><i>8 239</i></div>
<div class="r"><b>Turks and Caicos Islands</b><i>49 000</i><i>352</i><i>149</i><i>329</i><i></i><i>3</i><i>65</i><i>6</i><i>341</i><i>914</i></div>
<div class="r"><b>Tuvalu</b><i>10 000</i><i>103</i><i>175</i><i>57</i><i>14</i><i></i><i>4</i><i>1</i><i>34</i><i>222</i></div>
<div class="r"><b>Tyskland</b><i>83 445 000</i><i>177 240</i><i>475</i><i>175 678</i><i>2</i><i>2 800</i><i>23 199</i><i>1 979</i><i>48 001</i><i>277 109</i></div>
<div class="r"><b>Uganda</b><i>45 900 000</i><i>10 261</i><i>4 632</i><i>9 909</i><i>5</i><i>698</i><i>1 467</i><i>183</i><i>22 678</i><i>36 204</i></div>
<div class="r"><b>Ukraina</b><i>37 860 000</i><i>102 972</i><i>377</i><i>100 478</i><i>-5</i><i>1 698</i><i>15 655</i><i>1 164</i><i>25 530</i><i>173 551</i></div>
<div class="r"><b>Ungern</b><i>9 600 000</i><i>21 559</i><i>449</i><i>21 401</i><i>1</i><i>487</i><i>2 402</i><i>279</i><i>6 278</i><i>38 516</i></div>
<div class="r"><b>Uruguay</b><i>3 444 000</i><i>11 995</i><i>290</i><i>11 871</i><i></i><i>294</i><i>2 025</i><i>150</i><i>6 855</i><i>22 441</i></div>
<div class="r"><b>USA</b><i>336 751 000</i><i>1 259 538</i><i>272</i><i>1 236 274</i><i>1</i><i>23 367</i><i>243 002</i><i>11 858</i><i>455 800</i><i>2 408 873</i></div>
<div class="r"><b>Vanuatu</b><i>328 000</i><i>858</i><i>511</i><i>642</i><i>8</i><i>43</i><i>109</i><i>13</i><i>1 034</i><i>4 046</i></div>
<div class="r"><b>Venezuela</b><i>28 405 000</i><i>138 146</i><i>209</i><i>136 000</i><i>3</i><i>4 285</i><i>40 484</i><i>1 716</i><i>118 742</i><i>413 102</i></div>
<div class="r"><b>Wallis- och Futunaöarna</b><i>11 000</i><i>84</i><i>143</i><i>77</i><i>24</i><i></i><i>11</i><i>2</i><i>76</i><i>277</i></div>
<div class="r"><b>Yap</b><i>11 000</i><i>32</i><i>355</i><i>31</i><i></i><i></i><i>10</i><i>1</i><i>124</i><i>161</i></div>
<div class="r"><b>Zambia</b><i>21 315 000</i><i>258 013</i><i>93</i><i>228 281</i><i>8</i><i>18 073</i><i>23 330</i><i>3 654</i><i>421 860</i><i>1 085 831</i></div>
<div class="r"><b>Zimbabwe</b><i>15 675 000</i><i>52 895</i><i>314</i><i>50 000</i><i>7</i><i>3 208</i><i>8 636</i><i>974</i><i>90 494</i><i>131 488</i></div>
<div class="r"><b>Österrike</b><i>9 105 000</i><i>22 630</i><i>406</i><i>22 449</i><i>1</i><i>306</i><i>2 684</i><i>283</i><i>6 919</i><i>35 446</i></div>
<div class="r"><b>Östtimor</b><i>1 401 000</i><i>396</i><i>3 706</i><i>378</i><i>-1</i><i>25</i><i>113</i><i>5</i><i>472</i><i>1 048</i></div>
<div class="r"><b>33 andra länder och områden</b><i></i><i>214 313</i><i></i><i>210 515</i><i>1,4</i><i>3 901</i><i>48 253</i><i>2 859</i><i>85 992</i><i>329 181</i></div>
</div>
<div class="t"><b>Totalt (240 länder och områden)</b><i></i><i>9 043 460</i><i></i><i>8 828 124</i><i>2,4</i><i>296 267</i><i>1 679 026</i><i>118 767</i><i>7 480 146</i><i>21 119 442</i></div>
</div>
</body>
</html>
